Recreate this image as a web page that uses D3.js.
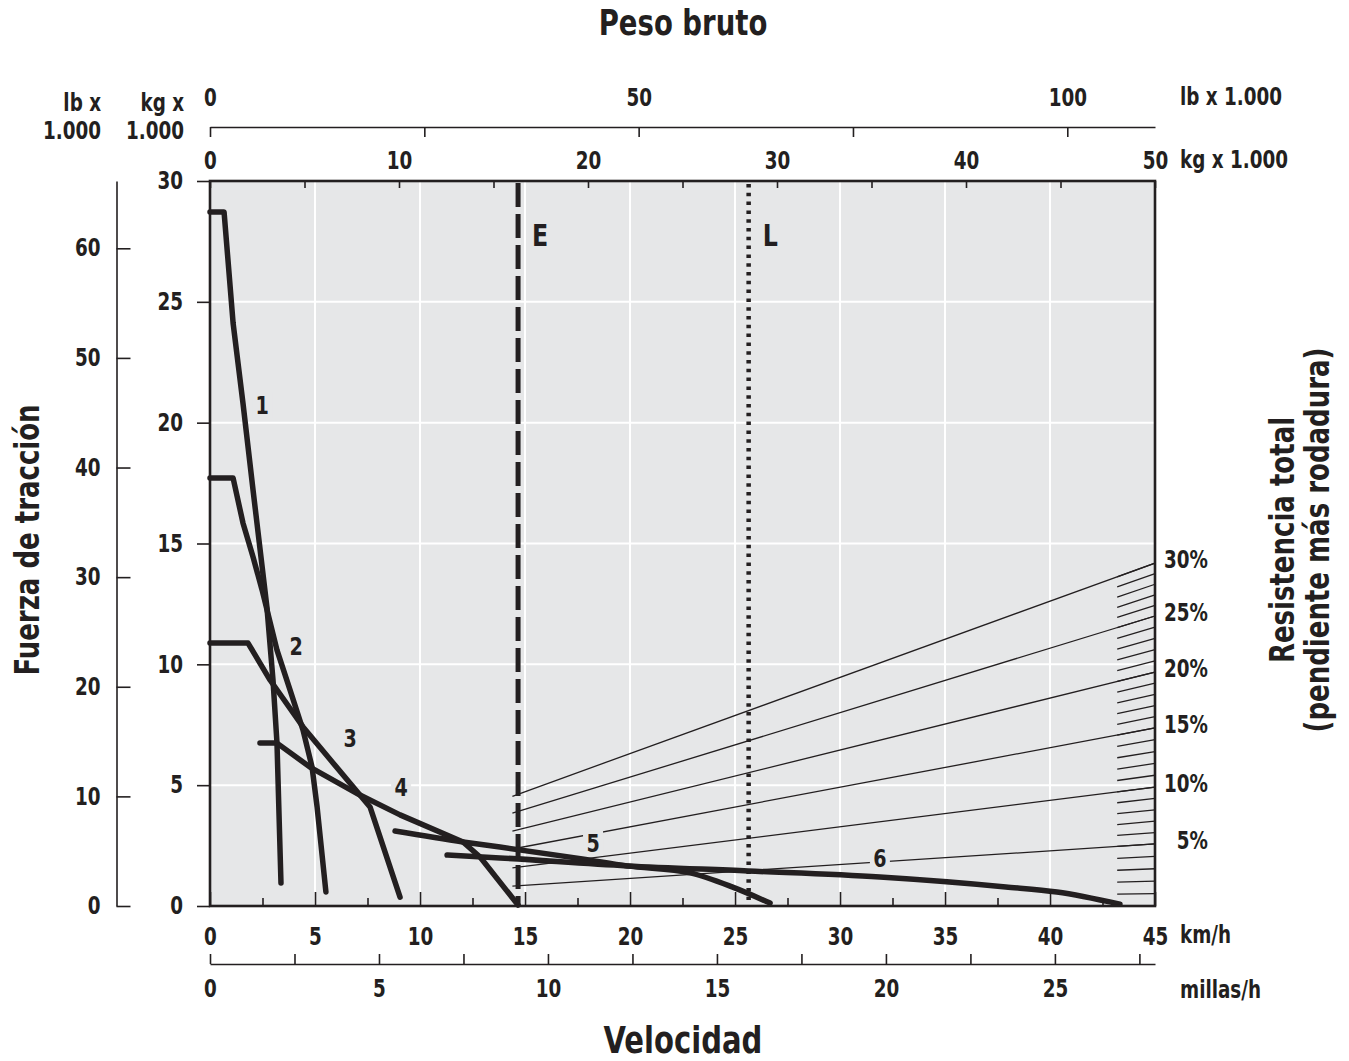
<!DOCTYPE html>
<html>
<head>
<meta charset="utf-8">
<script src="https://cdn.jsdelivr.net/npm/d3@7"></script>
<style>
body { margin: 0; background: #fff; }
text { font-family: "Liberation Sans Narrow", "DejaVu Sans Condensed", sans-serif; font-weight: bold; fill: #231f20; }
</style>
</head>
<body>
<script>

// rimpull curves, [speed km/h, force kg x 1000]
var curve1 = [[0, 28.72], [0.67, 28.72], [1.10, 24.12], [1.57, 20.81], [2.05, 17.21], [2.71, 12.37], [3.0, 9.35], [3.19, 6.74], [3.38, 0.95]];
var curve2 = [[0, 17.71], [1.10, 17.71], [1.57, 15.85], [2.05, 14.44], [2.48, 13.08], [3.19, 10.59], [3.81, 8.94], [4.43, 7.28], [4.86, 5.75], [5.10, 4.10], [5.52, 0.58]];
var curve3 = [[0, 10.88], [1.81, 10.88], [2.86, 9.35], [4.43, 7.41], [5.86, 5.92], [7.14, 4.59], [7.62, 4.10], [9.05, 0.37]];
var curve4 = [[2.38, 6.74], [3.19, 6.74], [4.76, 5.75], [7.14, 4.59], [9.05, 3.77], [12.05, 2.65], [12.86, 2.03], [14.67, 0.04]];
var curve5 = [[8.81, 3.10], [12.05, 2.65], [13.81, 2.44], [17.81, 1.94], [19.86, 1.66], [22.86, 1.37], [24.86, 0.79], [26.67, 0.12]];
var curve6 = [[11.29, 2.11], [13.81, 1.99], [19.86, 1.66], [25.62, 1.45], [31.90, 1.20], [37.90, 0.79], [40.33, 0.58], [43.33, 0.08]];
var curveNames = ["1", "2", "3", "4", "5", "6"];
// where each curve number sits, [speed, force]
var curveLabelAt = [[2.48, 20.73], [4.10, 10.76], [6.67, 6.95], [9.10, 4.92], [18.24, 2.61], [31.9, 1.99]];

// total resistance lines: grade %, force at 50 t gross weight
var grades = [5, 10, 15, 20, 25, 30];
var gradeForceAt50 = [2.57, 4.92, 7.37, 9.68, 12.0, 14.19];
var gradeStartWeight = 16;

// vertical marks on the gross weight scale
var markNames = ["E", "L"];
var markWeights = [16.3, 28.5];

// tick labels
var kgTopTicks = [0, 10, 20, 30, 40, 50];
var lbTopTicks = [0, 25, 50, 75, 100];
var lbTopLabels = [0, 50, 100];
var forceTicks = [0, 5, 10, 15, 20, 25, 30];
var lbLeftTicks = [0, 10, 20, 30, 40, 50, 60];
var kmhTicks = [0, 5, 10, 15, 20, 25, 30, 35, 40, 45];
var mphTicks = [0, 5, 10, 15, 20, 25];

var ink = "#231f20";
var plotBg = "#e6e7e8";
var x0 = 210, x1 = 1155, y0 = 181, y1 = 906;
var squeeze = 0.85;   // no condensed face installed, so narrow the glyphs

var svg = d3.select("body").append("svg")
    .attr("width", 1349)
    .attr("height", 1061);

var xSpeed = d3.scaleLinear().domain([0, 45]).range([x0, x1]);
var xWeight = d3.scaleLinear().domain([0, 50]).range([x0, x1]);
var xLb = d3.scaleLinear().domain([0, 50 / 0.45359237]).range([x0, x1]);
var xMph = d3.scaleLinear().domain([0, 45 / 1.609344]).range([x0, x1]);
var yForce = d3.scaleLinear().domain([0, 30]).range([y1, y0]);
var yLb = d3.scaleLinear().domain([0, 30 / 0.45359237]).range([y1, y0]);

// plot background + grid
svg.append("rect")
    .attr("x", x0).attr("y", y0)
    .attr("width", x1 - x0).attr("height", y1 - y0)
    .attr("fill", plotBg);

svg.selectAll(".vgrid").data(d3.range(5, 45, 5)).enter().append("line")
    .attr("x1", function(d) { return xSpeed(d); })
    .attr("x2", function(d) { return xSpeed(d); })
    .attr("y1", y0).attr("y2", y1)
    .attr("stroke", "#fff").attr("stroke-width", 2);

svg.selectAll(".hgrid").data(d3.range(5, 30, 5)).enter().append("line")
    .attr("x1", x0).attr("x2", x1)
    .attr("y1", function(d) { return yForce(d); })
    .attr("y2", function(d) { return yForce(d); })
    .attr("stroke", "#fff").attr("stroke-width", 2);

// total resistance rays from the origin of the weight scale
grades.forEach(function(g, i) {
    var k = gradeForceAt50[i] / 50;
    svg.append("line")
        .attr("x1", xWeight(gradeStartWeight)).attr("y1", yForce(gradeStartWeight * k))
        .attr("x2", xWeight(50)).attr("y2", yForce(50 * k))
        .attr("stroke", ink).attr("stroke-width", 1.3);
});

// 1% hatch marks at the right edge
var gradeScale = d3.scaleLinear().domain([0].concat(grades)).range([0].concat(gradeForceAt50));
d3.range(1, 31).forEach(function(p) {
    var k = gradeScale(p) / 50;
    svg.append("line")
        .attr("x1", xWeight(48)).attr("y1", yForce(48 * k))
        .attr("x2", xWeight(50)).attr("y2", yForce(50 * k))
        .attr("stroke", ink).attr("stroke-width", 1.3);
});

// E and L marks
markNames.forEach(function(n, i) {
    var xm = xWeight(markWeights[i]);
    svg.append("line")
        .attr("x1", xm).attr("x2", xm)
        .attr("y1", i == 0 ? y0 + 2 : y0 + 3).attr("y2", i == 0 ? y1 : y1 - 6)
        .attr("stroke", ink)
        .attr("stroke-width", i == 0 ? 5 : 4.5)
        .attr("stroke-dasharray", i == 0 ? "24,7" : "3.5,5.3");
    svg.append("text")
        .attr("x", xm + 14).attr("y", 246)
        .attr("font-size", 31)
        .text(n);
});

// curve numbers with knockout behind them
curveNames.forEach(function(n, i) {
    var cx = xSpeed(curveLabelAt[i][0]), cy = yForce(curveLabelAt[i][1]);
    svg.append("rect")
        .attr("x", cx - 10).attr("y", cy - 13)
        .attr("width", 20).attr("height", 26)
        .attr("fill", plotBg);
    svg.append("text")
        .attr("x", cx).attr("y", cy + 9)
        .attr("text-anchor", "middle")
        .attr("font-size", 25)
        .text(n);
});

// rimpull curves: sharp corners on the first four, smooth tails on 5 and 6
var line = d3.line()
    .x(function(d) { return xSpeed(d[0]); })
    .y(function(d) { return yForce(d[1]); });
var smooth = d3.line()
    .x(function(d) { return xSpeed(d[0]); })
    .y(function(d) { return yForce(d[1]); })
    .curve(d3.curveMonotoneX);

[curve1, curve2, curve3, curve4, curve5, curve6].forEach(function(c, i) {
    svg.append("path")
        .attr("d", i < 4 ? line(c) : smooth(c))
        .attr("fill", "none")
        .attr("stroke", ink)
        .attr("stroke-width", 5.5)
        .attr("stroke-linecap", "round")
        .attr("stroke-linejoin", "round");
});

// plot frame
svg.append("rect")
    .attr("x", x0).attr("y", y0)
    .attr("width", x1 - x0).attr("height", y1 - y0)
    .attr("fill", "none").attr("stroke", ink).attr("stroke-width", 2.6);

var styleAxis = function(g, size) {
    g.selectAll("path, line").attr("stroke", ink).attr("stroke-width", 1.6);
    g.selectAll("text")
        .attr("fill", ink)
        .attr("font-size", size)
        .attr("font-family", null);
    g.attr("font-family", null);
};

// top: lb x 1000
var gLbTop = svg.append("g").attr("transform", "translate(0,127)")
    .call(d3.axisTop(xLb).tickValues(lbTopTicks).tickSize(-10).tickSizeOuter(0).tickPadding(21)
        .tickFormat(function(d) { return lbTopLabels.indexOf(d) >= 0 ? d : ""; }));
styleAxis(gLbTop, 24);

// top: kg x 1000, ticks inside the frame
var gKgTop = svg.append("g").attr("transform", "translate(0," + y0 + ")")
    .call(d3.axisTop(xWeight).tickValues(d3.range(0, 51, 5)).tickSize(-7).tickSizeOuter(0).tickPadding(12)
        .tickFormat(function(d) { return kgTopTicks.indexOf(d) >= 0 ? d : ""; }));
gKgTop.select(".domain").remove();
styleAxis(gKgTop, 24);

// left: kg x 1000
var gKgLeft = svg.append("g").attr("transform", "translate(" + x0 + ",0)")
    .call(d3.axisLeft(yForce).tickValues(forceTicks).tickSize(13).tickSizeOuter(0).tickPadding(14));
gKgLeft.select(".domain").remove();
styleAxis(gKgLeft, 24);

// left: lb x 1000
var gLbLeft = svg.append("g").attr("transform", "translate(116.5,0)")
    .call(d3.axisLeft(yLb).tickValues(lbLeftTicks).tickSize(-14).tickSizeOuter(0).tickPadding(16));
styleAxis(gLbLeft, 24);

// bottom: km/h, ticks inside the frame
var gKmh = svg.append("g").attr("transform", "translate(0," + y1 + ")")
    .call(d3.axisBottom(xSpeed).tickValues(d3.range(0, 45.1, 2.5)).tickSize(-8).tickSizeOuter(0).tickPadding(22)
        .tickFormat(function(d) { return kmhTicks.indexOf(d) >= 0 ? d : ""; }));
gKmh.select(".domain").remove();
gKmh.selectAll(".tick line").filter(function(d) { return d % 5 == 0; }).attr("y2", -14);
styleAxis(gKmh, 24);

// bottom: mph
var gMph = svg.append("g").attr("transform", "translate(0,964)")
    .call(d3.axisBottom(xMph).tickValues(d3.range(0, 28, 2.5)).tickSize(-10).tickSizeOuter(0).tickPadding(16)
        .tickFormat(function(d) { return mphTicks.indexOf(d) >= 0 ? d : ""; }));
styleAxis(gMph, 24);

// grade labels
grades.forEach(function(g, i) {
    svg.append("text")
        .attr("x", 1208).attr("y", yForce(gradeForceAt50[i]) + 5)
        .attr("text-anchor", "end")
        .attr("font-size", 24)
        .text(g + "%");
});

// unit labels
var unit = function(x, y, t, anchor) {
    svg.append("text")
        .attr("x", x).attr("y", y)
        .attr("text-anchor", anchor || "start")
        .attr("font-size", 24)
        .text(t);
};
unit(1180, 105, "lb x 1.000");
unit(1180, 168, "kg x 1.000");
unit(1180, 943, "km/h");
unit(1180, 998, "millas/h");
unit(101, 111, "lb x", "end");
unit(101, 139, "1.000", "end");
unit(184, 111, "kg x", "end");
unit(184, 139, "1.000", "end");

// titles
svg.append("text")
    .attr("x", 683).attr("y", 35)
    .attr("text-anchor", "middle").attr("font-size", 36)
    .text("Peso bruto");

svg.append("text")
    .attr("x", 683).attr("y", 1053)
    .attr("text-anchor", "middle").attr("font-size", 38)
    .text("Velocidad");

svg.append("text")
    .attr("transform", "translate(39,540) rotate(-90)")
    .attr("text-anchor", "middle").attr("font-size", 34)
    .text("Fuerza de tracción");

svg.append("text")
    .attr("transform", "translate(1294,540) rotate(-90)")
    .attr("text-anchor", "middle").attr("font-size", 34)
    .text("Resistencia total");

svg.append("text")
    .attr("transform", "translate(1329,540) rotate(-90)")
    .attr("text-anchor", "middle").attr("font-size", 34)
    .text("(pendiente más rodadura)");

// condense every label to the width of the original face
svg.selectAll("text").each(function() {
    var len = this.getComputedTextLength();
    if (len > 0) {
        d3.select(this)
            .attr("textLength", len * squeeze)
            .attr("lengthAdjust", "spacingAndGlyphs");
    }
});

</script>
</body>
</html>
